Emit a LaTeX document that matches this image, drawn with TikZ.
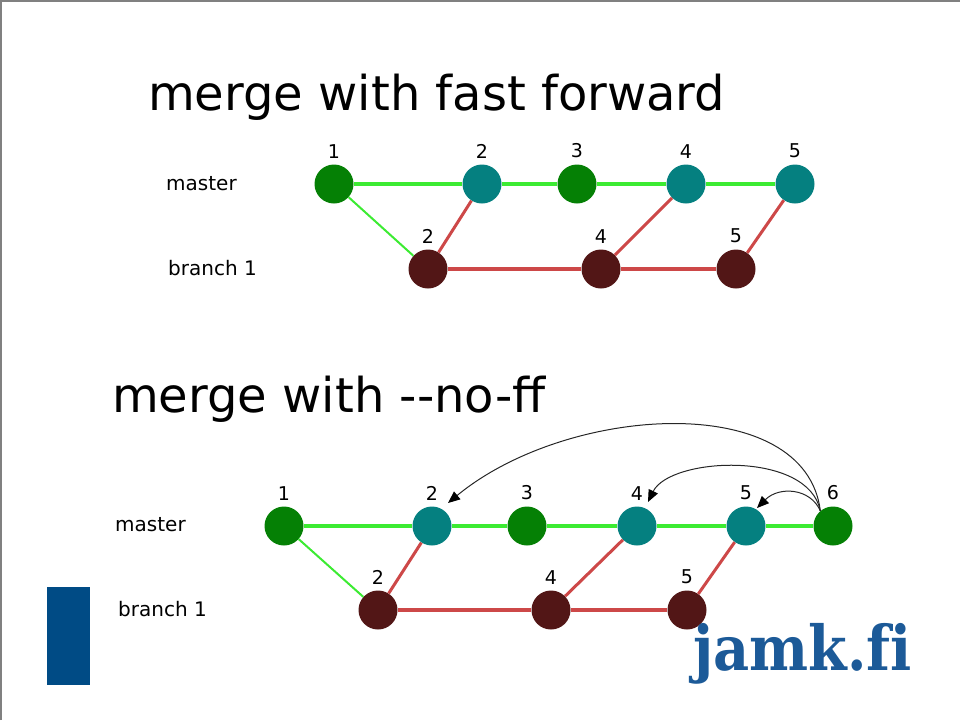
\documentclass[tikz,border=0pt]{standalone}
\usepackage{fontspec}
\setmainfont{DejaVu Sans}
\newfontfamily\logofont{DejaVu Serif}
\usetikzlibrary{arrows.meta}
\definecolor{cgreen}{RGB}{5,128,5}
\definecolor{cteal}{RGB}{5,128,128}
\definecolor{cbrown}{RGB}{82,22,22}
\definecolor{lgreen}{RGB}{60,235,50}
\definecolor{lred}{RGB}{205,72,72}
\definecolor{jamkblue}{RGB}{28,90,152}
\definecolor{barblue}{RGB}{0,75,133}
\tikzstyle{commit} = [circle, minimum size=39pt, inner sep=0pt]
\tikzstyle{mnode} = [commit, fill=cgreen]
\tikzstyle{tnode} = [commit, fill=cteal]
\tikzstyle{bnode} = [commit, fill=cbrown]
\tikzstyle{num} = [font=\fontsize{19}{19}\selectfont, inner sep=0pt, yshift=6pt]
\tikzstyle{lane} = [font=\fontsize{20}{20}\selectfont, anchor=west, inner sep=0pt]
\tikzstyle{title} = [font=\fontsize{48}{48}\selectfont, anchor=base west, inner sep=0pt]
\tikzstyle{mline} = [draw, lgreen, line width=4pt]
\tikzstyle{fline} = [draw, lgreen, line width=2pt]
\tikzstyle{bline} = [draw, lred, line width=4pt]
\tikzstyle{jline} = [draw, lred, line width=3pt]
\tikzstyle{backarrow} = [draw, black!85, line width=1pt, -{Triangle[length=12pt,width=10pt,color=black]}]

\begin{document}
\begin{tikzpicture}[x=1pt, y=-1pt]
\useasboundingbox (0,0) rectangle (960,720);
\draw [gray, line width=1.5pt] (0.75,720) -- (0.75,0.75) -- (960,0.75);

\node [title] at (148,110) (fftitle) {merge with fast forward};
\node [lane] at (166,184) (master1) {master};
\node [lane] at (168,268) (branch1) {branch 1};

\node [mnode, label={[num]above:1}] at (334,184) (a1) {};
\node [tnode, label={[num]above:2}] at (482,184) (a2) {};
\node [mnode, label={[num]above:3}] at (577,184) (a3) {};
\node [tnode, label={[num]above:4}] at (686,184) (a4) {};
\node [tnode, label={[num]above:5}] at (795,184) (a5) {};
\node [bnode, label={[num]above:2}] at (428,269) (b2) {};
\node [bnode, label={[num]above:4}] at (601,269) (b4) {};
\node [bnode, label={[num]above:5}] at (736,269) (b5) {};
\path [mline] (a1) -- (a2) -- (a3) -- (a4) -- (a5);
\path [fline] (a1) -- (b2);
\path [bline] (b2) -- (b4) -- (b5);
\path [jline] (b2) -- (a2);
\path [jline] (b4) -- (a4);
\path [jline] (b5) -- (a5);

\node [title] at (112,412) (noftitle) {merge with -\kern0pt-no-ff};
\node [lane] at (115,525) (master2) {master};
\node [lane] at (118,609) (branch2) {branch 1};

\node [mnode, label={[num]above:1}] at (284,526) (c1) {};
\node [tnode, label={[num]above:2}] at (432,526) (c2) {};
\node [mnode, label={[num]above:3}] at (527,526) (c3) {};
\node [tnode, label={[num]above:4}] at (637,526) (c4) {};
\node [tnode, label={[num]above:5}] at (746,526) (c5) {};
\node [mnode, label={[num]above:6}] at (833,526) (c6) {};
\node [bnode, label={[num]above:2}] at (378,610) (d2) {};
\node [bnode, label={[num]above:4}] at (551,610) (d4) {};
\node [bnode, label={[num]above:5}] at (687,610) (d5) {};
\path [mline] (c1) -- (c2) -- (c3) -- (c4) -- (c5) -- (c6);
\path [fline] (c1) -- (d2);
\path [bline] (d2) -- (d4) -- (d5);
\path [jline] (d2) -- (c2);
\path [jline] (d4) -- (c4);
\path [jline] (d5) -- (c5);

\coordinate (tip2) at ([shift={(16,-23)}]c2);
\coordinate (tip4) at ([shift={(11,-24)}]c4);
\coordinate (tip5) at ([shift={(11,-18)}]c5);
\path [backarrow] (c6.130) .. controls +(-15,-121) and +(120,-99) .. (tip2);
\path [backarrow] (c6.130) .. controls +(-12,-61) and +(22,-45) .. (tip4);
\path [backarrow] (c6.130) .. controls +(-10,-23) and +(22,-22) .. (tip5);

\fill [barblue] (47,587) rectangle (90,685);
\node [anchor=base west, inner sep=0pt, text=jamkblue,
       font=\logofont\bfseries\fontsize{62}{62}\selectfont] at (693,670) (jamk)
      {\scalebox{0.9}[1]{jamk.f\kern0pt i}};
\end{tikzpicture}
\end{document}
